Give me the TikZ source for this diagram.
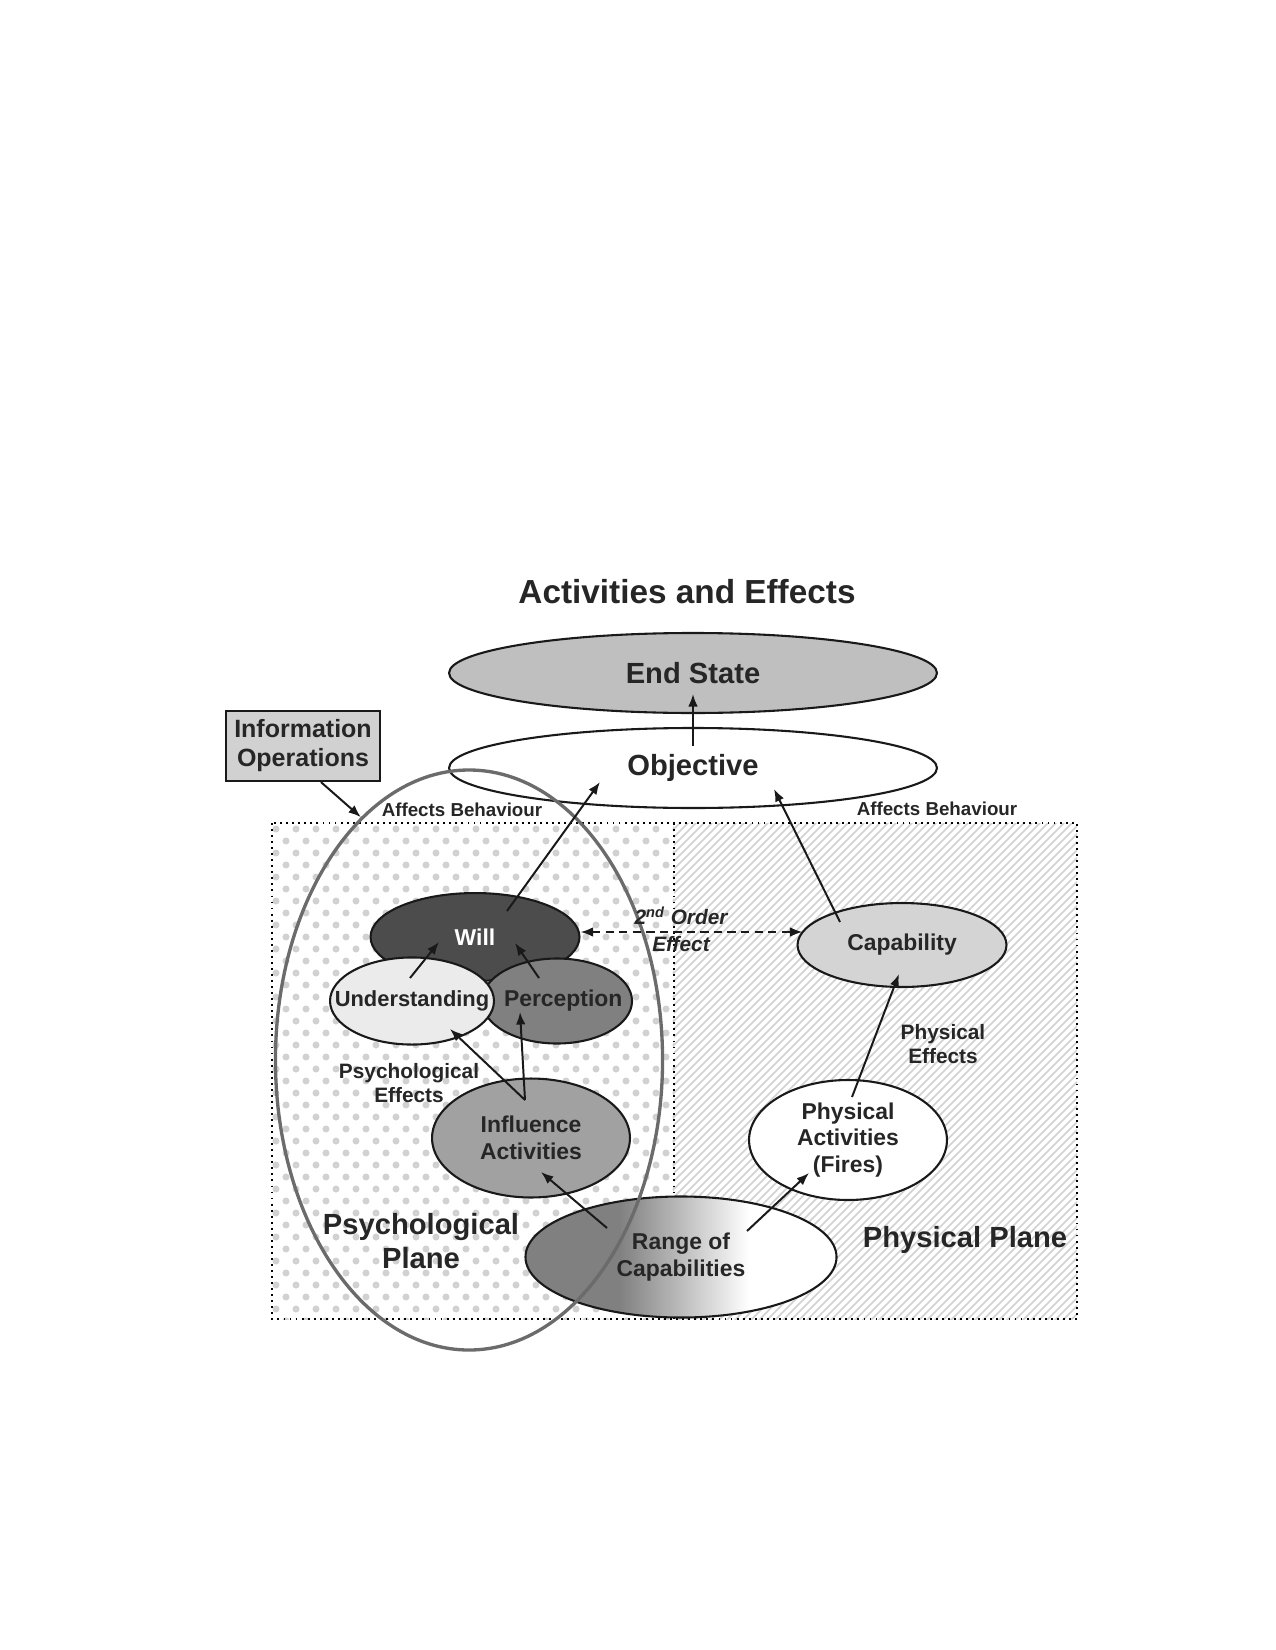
\documentclass[tikz,border=0pt]{standalone}
\usepackage{fontspec}
\setmainfont{Liberation Sans}
\usetikzlibrary{shapes.geometric,arrows.meta}

\definecolor{txt}{gray}{0.15}
\definecolor{dotgray}{gray}{0.82}
\definecolor{hatchgray}{gray}{0.82}
\definecolor{rngdark}{gray}{0.50}
\pgfdeclarehorizontalshading{rangeshade}{100bp}{color(0bp)=(rngdark); color(40bp)=(rngdark); color(61bp)=(white); color(100bp)=(white)}

\begin{document}
\begin{tikzpicture}[x=0.48pt, y=-0.48pt, >={Latex[length=6pt,width=4.6pt]},
  every node/.style={text=txt, font=\bfseries},
  oval/.style={ellipse, draw=black!90, line width=1pt, inner sep=0pt, align=center},
  arr/.style={->, line width=0.95pt, black!90},
  sz/.style={font=\bfseries\pgfmathsetmacro\bsk{#1*1.16}\fontsize{#1}{\bsk}\selectfont},
  szi/.style={font=\bfseries\itshape\fontsize{#1}{#1}\selectfont}
]
\useasboundingbox (0,0) rectangle (1275,1650);

% planes
\begin{scope}
\clip (272,823) rectangle (674,1319);
\foreach \r in {0,...,41}{
  \pgfmathsetmacro\dx{mod(\r,2)*10}
  \foreach \c in {0,...,20}
    \fill[dotgray] (276+\c*20+\dx, 829+\r*12) circle (1.7pt);
}
\end{scope}
\begin{scope}
\clip (674,823) rectangle (1077,1319);
\foreach \k in {0,...,114}
  \draw[hatchgray, line width=0.8pt] (170+\k*8,1325) -- (170+\k*8+510,815);
\end{scope}
\draw[dotted, line width=0.9pt] (272,823) rectangle (1077,1319);
\draw[dotted, line width=0.9pt] (674,823) -- (674,1319);

% title
\node[sz=16] (title) at (687,592) {Activities and Effects};

% top ellipses
\node[oval, fill=black!25, minimum width=234.2pt, minimum height=38.4pt, sz=14] (end) at (693,673) {End State};
\node[oval, fill=white, minimum width=234.2pt, minimum height=38.4pt, sz=14] (obj) at (693,768) {Objective};

\node[draw=black!90, line width=1pt, fill=black!18, minimum width=73.9pt, minimum height=33.6pt,
  inner sep=0pt, align=center, sz=12] (info) at (303,746) {Information\\Operations};

% psychological side
\node[oval, fill=black!70, minimum width=100.3pt, minimum height=42.2pt, sz=11, text=white] (will) at (475,937) {Will};
\node[oval, fill=black!50, minimum width=72pt, minimum height=40.8pt, sz=11] (per) at (557,1001) {\makebox[0pt]{\hspace{6pt}Perception}};
\node[oval, fill=black!8, minimum width=78.7pt, minimum height=41.8pt, sz=10.5] (und) at (412,1001) {\makebox[0pt]{Understanding}};
\node[oval, fill=black!37, minimum width=95pt, minimum height=57.1pt, sz=11] (inf) at (531,1138) {Influence\\Activities};

% physical side
\node[oval, fill=black!17, minimum width=100.3pt, minimum height=40.3pt, sz=11] (cap) at (902,945) {Capability};
\node[oval, fill=white, minimum width=95pt, minimum height=57.6pt, sz=11] (phy) at (848,1140) {Physical\\Activities\\(Fires)};
\node[oval, shading=rangeshade, minimum width=149.3pt, minimum height=58.1pt, sz=11] (rng) at (681,1257) {Range of\\Capabilities};

\node[ellipse, draw=black!58, line width=1.6pt, minimum width=185.8pt, minimum height=278.4pt] (psy) at (469,1060) {};

% labels
\node[sz=9] (abl) at (462,810) {Affects Behaviour};
\node[sz=9] (abr) at (937,809) {Affects Behaviour};
\node[sz=10, align=center] (pse) at (409,1083) {Psychological\\Effects};
\node[sz=10, align=center] (phe) at (943,1044) {Physical\\Effects};
\node[sz=14, align=center] (psp) at (421,1241) {Psychological\\Plane};
\node[sz=14] (php) at (965,1240) {Physical Plane};
\node[szi=10] (ord) at (681,916) {2\textsuperscript{\scriptsize nd} Order};
\node[szi=10] (eff) at (681,944) {Effect};

% connectors
\draw[arr] ([shift={(0,-22)}]obj.center) -- ([shift={(0,21)}]end.center);
\draw[arr] ([xshift=8.6pt]info.south) -- (psy.114);
\draw[arr] ([shift={(32,-26)}]will.center) -- ([shift={(-93,14)}]obj.center);
\draw[arr] ([shift={(-2,-23)}]und.center) -- ([shift={(-36,5)}]will.center);
\draw[arr] ([shift={(-18,-23)}]per.center) -- ([shift={(40,6)}]will.center);
\draw[arr] ([shift={(-6,-38)}]inf.center) -- ([shift={(38,28)}]und.center);
\draw[arr] ([shift={(-6,-38)}]inf.center) -- ([shift={(-37,11)}]per.center);
\draw[arr] ([shift={(-74,-29)}]rng.center) -- ([shift={(10,34)}]inf.center);
\draw[arr] ([shift={(66,-26)}]rng.center) -- ([shift={(-39,33)}]phy.center);
\draw[arr] ([shift={(4,-43)}]phy.center) -- ([shift={(-3,29)}]cap.center);
\draw[arr] ([shift={(-62,-23)}]cap.center) -- ([shift={(81,21)}]obj.center);
\draw[arr, <->, dash pattern=on 4pt off 2.5pt] ([shift={(0,-5)}]will.east) -- ([shift={(6,-13)}]cap.west);
\end{tikzpicture}
\end{document}
